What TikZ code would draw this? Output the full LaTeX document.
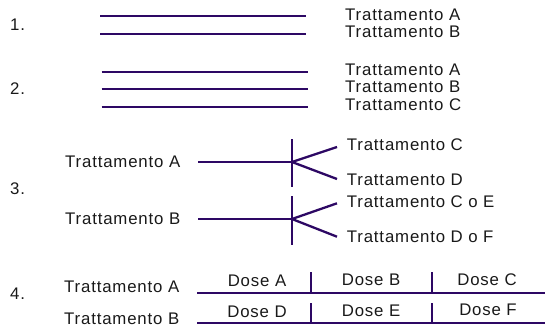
\documentclass[tikz,border=0pt]{standalone}
\usepackage{fontspec}
\setmainfont{Liberation Sans}[LetterSpace=5]
\definecolor{linec}{RGB}{45,8,100}
\definecolor{textc}{RGB}{25,25,25}
\tikzset{
  lbl/.style={inner sep=0pt, anchor=west, text=textc, font=\fontsize{16.8bp}{18bp}\selectfont},
  clbl/.style={inner sep=0pt, anchor=center, text=textc, font=\fontsize{16.8bp}{18bp}\selectfont},
  ln/.style={draw=linec, line width=2.3bp},
}
\begin{document}
\begin{tikzpicture}[x=1bp,y=-1bp]
\useasboundingbox (0,0) rectangle (545,327);
% Section 1
\node[lbl] (n1) at (10,24.5) {1.};
\coordinate (l1a) at (100,15.7); \coordinate (r1a) at (306,15.7);
\coordinate (l1b) at (100,33.7); \coordinate (r1b) at (306,33.7);
\draw[ln] (l1a) -- (r1a);
\draw[ln] (l1b) -- (r1b);
\node[lbl] (t1a) at (345,14.5) {Trattamento A};
\node[lbl] (t1b) at (345,32.2) {Trattamento B};
% Section 2
\node[lbl] (n2) at (10,89) {2.};
\coordinate (l2a) at (101.7,71.7); \coordinate (r2a) at (308,71.7);
\coordinate (l2b) at (101.7,89); \coordinate (r2b) at (308,89);
\coordinate (l2c) at (101.7,106.7); \coordinate (r2c) at (308,106.7);
\draw[ln] (l2a) -- (r2a);
\draw[ln] (l2b) -- (r2b);
\draw[ln] (l2c) -- (r2c);
\node[lbl] (t2a) at (345,69.5) {Trattamento A};
\node[lbl] (t2b) at (345,87) {Trattamento B};
\node[lbl] (t2c) at (345,104.5) {Trattamento C};
% Section 3
\node[lbl] (n3) at (10,189) {3.};
\node[lbl] (t3a) at (65,161.7) {Trattamento A};
\node[lbl] (t3b) at (65,218.3) {Trattamento B};
\coordinate (h3a) at (198,162); \coordinate (j3a) at (292,162);
\coordinate (v3at) at (292,139); \coordinate (v3ab) at (292,187);
\coordinate (e3ac) at (337,147); \coordinate (e3ad) at (337,179);
\draw[ln] (h3a) -- (j3a);
\draw[ln] (v3at) -- (v3ab);
\draw[ln] (j3a) -- (e3ac);
\draw[ln] (j3a) -- (e3ad);
\node[lbl] (t3c) at (346.7,145) {Trattamento C};
\node[lbl] (t3d) at (346.7,180) {Trattamento D};
\coordinate (h3b) at (198,219); \coordinate (j3b) at (292,219);
\coordinate (v3bt) at (292,196); \coordinate (v3bb) at (292,245);
\coordinate (e3bc) at (337,203.3); \coordinate (e3bd) at (337,236.7);
\draw[ln] (h3b) -- (j3b);
\draw[ln] (v3bt) -- (v3bb);
\draw[ln] (j3b) -- (e3bc);
\draw[ln] (j3b) -- (e3bd);
\node[lbl] (t3ce) at (346.7,201.7) {Trattamento C o E};
\node[lbl] (t3df) at (346.7,236.7) {Trattamento D o F};
% Section 4
\node[lbl] (n4) at (10,293.3) {4.};
\node[lbl] (t4a) at (64,287) {Trattamento A};
\node[lbl] (t4b) at (64,318.3) {Trattamento B};
\coordinate (u4l) at (197,293); \coordinate (u4r) at (545,293);
\coordinate (d4l) at (197,323); \coordinate (d4r) at (545,323);
\draw[ln] (u4l) -- (u4r);
\draw[ln] (d4l) -- (d4r);
\coordinate (ua1) at (311,272); \coordinate (ua1b) at (311,293);
\coordinate (ua2) at (432,272); \coordinate (ua2b) at (432,293);
\coordinate (da1) at (311,303); \coordinate (da1b) at (311,323);
\coordinate (da2) at (432,303); \coordinate (da2b) at (432,323);
\draw[ln] (ua1) -- (ua1b);
\draw[ln] (ua2) -- (ua2b);
\draw[ln] (da1) -- (da1b);
\draw[ln] (da2) -- (da2b);
\node[clbl] (dA) at (257,280.7) {Dose A};
\node[clbl] (dB) at (371,280) {Dose B};
\node[clbl] (dC) at (487,279.7) {Dose C};
\node[clbl] (dD) at (257,311.7) {Dose D};
\node[clbl] (dE) at (371,310.5) {Dose E};
\node[clbl] (dF) at (488,310) {Dose F};
\end{tikzpicture}
\end{document}
